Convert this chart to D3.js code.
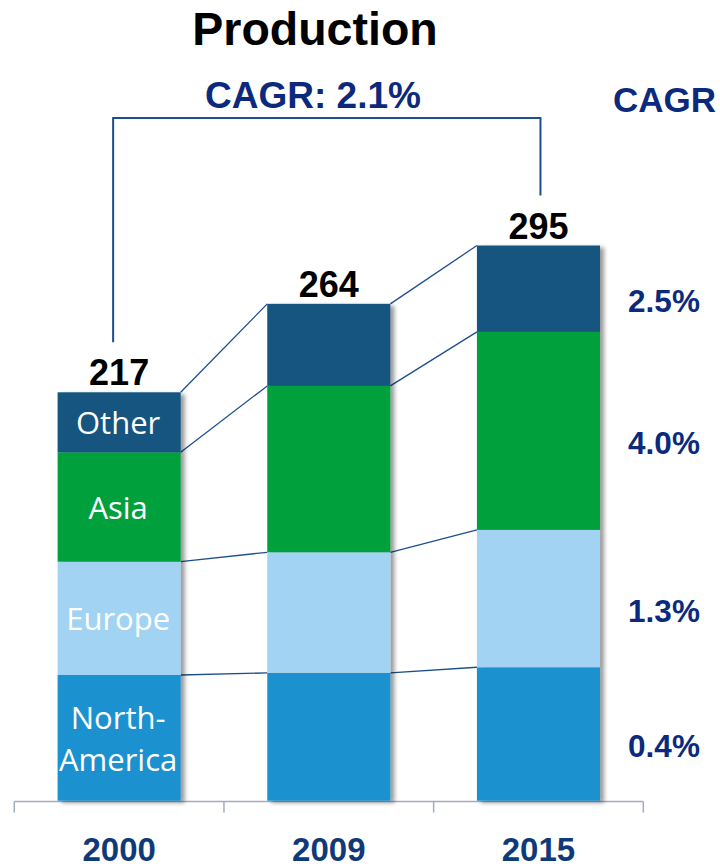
<!DOCTYPE html>
<html>
<head>
<meta charset="utf-8">
<script src="https://cdn.jsdelivr.net/npm/d3@7"></script>
<style>
  html, body { margin: 0; padding: 0; background: #ffffff; }
  svg { display: block; }
</style>
</head>
<body>
<svg id="chart" width="720" height="866"></svg>
<script>
// ---- data ----
const years = ["2000", "2009", "2015"];
const regions = ["North-America", "Europe", "Asia", "Other"];
const northAmerica = [66.8, 67.9, 70.9];
const europe = [60.2, 64.1, 73.0];
const asia = [58.1, 88.4, 105.2];
const other = [31.9, 43.6, 45.9];
const totals = [217, 264, 295];
const regionCagr = ["0.4%", "1.3%", "4.0%", "2.5%"];
const totalCagr = "CAGR: 2.1%";
const title = "Production";
const cagrHeader = "CAGR";

// ---- build table ----
const series = [northAmerica, europe, asia, other];
const table = years.map((yr, i) => {
  const row = { year: yr };
  regions.forEach((r, k) => row[r] = series[k][i]);
  return row;
});
const stacked = d3.stack().keys(regions)(table);

const colors = {
  "North-America": "#1a91d0",
  "Europe": "#a2d3f3",
  "Asia": "#00a03c",
  "Other": "#12557f"
};
const lineColor = "#1d4f8d";
const navy = "#0b2a7e";
const yearColor = "#0f3a78";
const sans = "'Liberation Sans', Arial, sans-serif";
const labelFont = "'Open Sans', 'Noto Sans', sans-serif";

const svg = d3.select("#chart");

const baseline = 800.7;
const pxPerUnit = 1.882;
const x = d3.scaleBand().domain(years).range([14.3, 643.3])
  .paddingInner(0.413).paddingOuter(0.2065);
const y = d3.scaleLinear().domain([0, d3.max(totals)])
  .range([baseline, baseline - d3.max(totals) * pxPerUnit]);

// shadow filter
const defs = svg.append("defs");
const f = defs.append("filter").attr("id", "shadow")
  .attr("x", "-10%").attr("y", "-10%").attr("width", "130%").attr("height", "130%");
f.append("feDropShadow").attr("dx", 4).attr("dy", 2).attr("stdDeviation", 2.2)
  .attr("flood-color", "#000").attr("flood-opacity", 0.4);

// title
svg.append("text").attr("x", 315).attr("y", 44.5)
  .attr("text-anchor", "middle").attr("font-family", sans).attr("font-weight", "bold")
  .attr("font-size", 46.5).attr("fill", "#000").text(title);

// total CAGR label
svg.append("text").attr("x", 313).attr("y", 108)
  .attr("text-anchor", "middle").attr("font-family", sans).attr("font-weight", "bold")
  .attr("font-size", 37).attr("fill", navy).text(totalCagr);

// right CAGR header
svg.append("text").attr("x", 613).attr("y", 111.5)
  .attr("text-anchor", "start").attr("font-family", sans).attr("font-weight", "bold")
  .attr("font-size", 35).attr("fill", navy).text(cagrHeader);

// bracket
const c0 = x(years[0]) + x.bandwidth() / 2;
const c2 = x(years[2]) + x.bandwidth() / 2;
const bx0 = c0 - 6, bx1 = c2 + 2, bTop = 118;
svg.append("path")
  .attr("d", `M${bx0},${y(totals[0]) - 50}V${bTop}H${bx1}V${y(totals[2]) - 50}`)
  .attr("fill", "none").attr("stroke", lineColor).attr("stroke-width", 2);

// connector lines between bars
for (let i = 0; i < years.length - 1; i++) {
  const xr = x(years[i]) + x.bandwidth();
  const xl = x(years[i + 1]);
  stacked.forEach(layer => {
    svg.append("line")
      .attr("x1", xr).attr("y1", y(layer[i][1]))
      .attr("x2", xl).attr("y2", y(layer[i + 1][1]))
      .attr("stroke", lineColor).attr("stroke-width", 1.3);
  });
}

// axis
const axisG = svg.append("g").attr("transform", `translate(0,${baseline + 0.8})`);
axisG.append("line").attr("x1", 14.3).attr("x2", 643.3).attr("y1", 0).attr("y2", 0)
  .attr("stroke", "#a3abbf").attr("stroke-width", 1.5);
const tickXs = years.map(yr => x(yr) - x.step() * x.paddingInner() / 2)
  .concat([x(years[years.length - 1]) + x.bandwidth() + x.step() * x.paddingInner() / 2]);
axisG.selectAll("line.tick").data(tickXs).join("line").attr("class", "tick")
  .attr("x1", d => d).attr("x2", d => d).attr("y1", 0).attr("y2", 11)
  .attr("stroke", "#a3abbf").attr("stroke-width", 1.5);
axisG.selectAll("text.yr").data(years).join("text").attr("class", "yr")
  .attr("x", d => x(d) + x.bandwidth() / 2).attr("y", 59)
  .attr("text-anchor", "middle").attr("font-family", sans).attr("font-weight", "bold")
  .attr("font-size", 33).attr("fill", yearColor).text(d => d);

// bars
const barG = svg.append("g");
years.forEach((yr, i) => {
  const g = barG.append("g").attr("filter", "url(#shadow)");
  stacked.forEach(layer => {
    const d = layer[i];
    g.append("rect")
      .attr("x", x(yr)).attr("width", x.bandwidth())
      .attr("y", y(d[1])).attr("height", y(d[0]) - y(d[1]))
      .attr("fill", colors[layer.key]);
  });
});

// total labels
svg.selectAll("text.total").data(years).join("text").attr("class", "total")
  .attr("x", (d) => x(d) + x.bandwidth() / 2)
  .attr("y", (d, i) => y(totals[i]) - 7)
  .attr("text-anchor", "middle").attr("font-family", sans).attr("font-weight", "bold")
  .attr("font-size", 36).attr("fill", "#000").text((d, i) => totals[i]);

// segment labels in first bar
const segLabels = { "North-America": ["North-", "America"], "Europe": ["Europe"], "Asia": ["Asia"], "Other": ["Other"] };
stacked.forEach(layer => {
  const d = layer[0];
  const cy = y((d[0] + d[1]) / 2);
  const lines = segLabels[layer.key];
  const lh = 42.3;
  lines.forEach((ln, j) => {
    svg.append("text")
      .attr("x", c0 - 1)
      .attr("y", cy + 12 + (j - (lines.length - 1) / 2) * lh)
      .attr("text-anchor", "middle").attr("font-family", labelFont)
      .attr("font-size", 31).attr("fill", "#ffffff").text(ln);
  });
});

// region CAGR labels on right
stacked.forEach((layer, k) => {
  const d = layer[years.length - 1];
  const cy = y((d[0] + d[1]) / 2);
  svg.append("text").attr("x", 664).attr("y", cy + 23)
    .attr("text-anchor", "middle").attr("font-family", sans).attr("font-weight", "bold")
    .attr("font-size", 31.5).attr("fill", navy).text(regionCagr[k]);
});
</script>
</body>
</html>
